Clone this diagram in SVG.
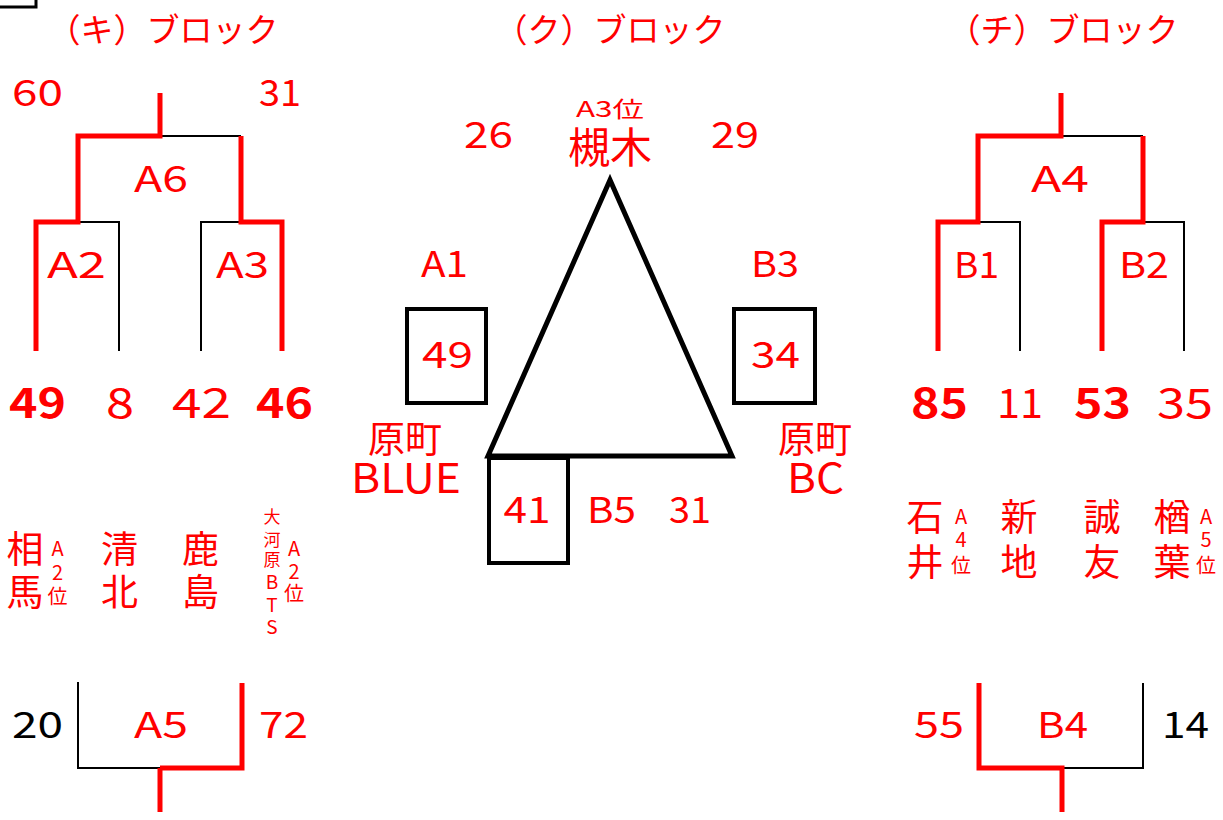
<svg xmlns="http://www.w3.org/2000/svg" width="1223" height="820" viewBox="0 0 1223 820">
<style>
text{font-family:"Noto Sans CJK JP","Noto Sans",sans-serif;fill:#ff0000}
.k{fill:#000}
.b{font-weight:bold}
.m{text-anchor:middle}
.c{text-anchor:middle;dominant-baseline:central}
.t{font-size:33px}
.n{font-size:36px}
.nb{font-size:41px}
.j{font-size:37px}
.s{font-size:20px}
.xs{font-size:17px}
.xl{font-size:19px}
.lr{stroke:#ff0000;stroke-width:5;fill:none}
.lk{stroke:#000;stroke-width:2;fill:none}
.box{stroke:#000;stroke-width:4;fill:none}
</style>
<rect width="1223" height="820" fill="#fff"/>
<path d="M0,7 H36 V0" stroke="#000" stroke-width="3" fill="none"/>

<g id="connectors">
  <path class="lk" d="M160,136 H241"/>
  <path class="lk" d="M78,222 H119 V351"/>
  <path class="lk" d="M201,351 V222 H241"/>
  <path class="lr" d="M160,93 V136 H78 V222 H36 V351"/>
  <path class="lr" d="M241,136 V222 H282 V351"/>
  <path class="lk" d="M78,682 V768 H160"/>
  <path class="lr" d="M242,683 V768 H160"/>
  <path class="lr" d="M160,768 V812"/>
  <path class="lk" d="M1061,136 H1143"/>
  <path class="lk" d="M978,222 H1020 V351"/>
  <path class="lk" d="M1143,222 H1184 V351"/>
  <path class="lr" d="M1061,93 V136 H978 V222 H938 V351"/>
  <path class="lr" d="M1143,136 V222 H1102 V351"/>
  <path class="lk" d="M1062,768 H1143 V683"/>
  <path class="lr" d="M979,683 V768 H1062 V812"/>
  <polygon points="610,180 488,456 732,456" stroke="#000" stroke-width="5" fill="none"/>
</g>

<g id="block-ki">
  <text class="t c" x="163" y="28">（キ）ブロック</text>
  <text class="n m" x="37.5" y="106" textLength="51" lengthAdjust="spacingAndGlyphs">60</text>
  <text class="n m" x="280" y="106" textLength="42" lengthAdjust="spacingAndGlyphs">31</text>
</g>
<g id="A6"><text class="n m" x="161" y="192" textLength="54" lengthAdjust="spacingAndGlyphs">A6</text></g>
<g id="A2"><text class="n m" x="76.5" y="278" textLength="59" lengthAdjust="spacingAndGlyphs">A2</text></g>
<g id="A3"><text class="n m" x="242.5" y="278" textLength="53" lengthAdjust="spacingAndGlyphs">A3</text></g>
<g id="ki-scores">
  <text class="nb m b" x="37.5" y="418" textLength="57" lengthAdjust="spacingAndGlyphs">49</text>
  <text class="nb m" x="120" y="418" textLength="28" lengthAdjust="spacingAndGlyphs">8</text>
  <text class="nb m" x="201.5" y="418" textLength="59" lengthAdjust="spacingAndGlyphs">42</text>
  <text class="nb m b" x="284.5" y="418" textLength="57" lengthAdjust="spacingAndGlyphs">46</text>
</g>
<g id="team-soma">
  <text class="j c" x="25" y="547">相</text>
  <text class="j c" x="25" y="590">馬</text>
  <text class="s c" x="57.5" y="547">A</text>
  <text class="s c" x="57.5" y="571">2</text>
  <text class="s c" x="57.5" y="595">位</text>
</g>
<g id="team-seihoku">
  <text class="j c" x="119.5" y="547">清</text>
  <text class="j c" x="119.5" y="590">北</text>
</g>
<g id="team-kashima">
  <text class="j c" x="200.5" y="547">鹿</text>
  <text class="j c" x="200.5" y="590">島</text>
</g>
<g id="team-okawara">
  <text class="xs c" x="272" y="515">大</text>
  <text class="xs c" x="272" y="538">河</text>
  <text class="xs c" x="272" y="558">原</text>
  <text class="xl c" x="272" y="580">B</text>
  <text class="xl c" x="272" y="603">T</text>
  <text class="xl c" x="272" y="625">S</text>
  <text class="s c" x="294" y="547">A</text>
  <text class="s c" x="294" y="570">2</text>
  <text class="s c" x="294" y="592">位</text>
</g>
<g id="A5">
  <text class="n m k" x="37.5" y="738" textLength="51" lengthAdjust="spacingAndGlyphs">20</text>
  <text class="n m" x="161" y="738" textLength="54" lengthAdjust="spacingAndGlyphs">A5</text>
  <text class="n m" x="283.5" y="738" textLength="49" lengthAdjust="spacingAndGlyphs">72</text>
</g>

<g id="block-ku">
  <text class="t c" x="610" y="28">（ク）ブロック</text>
</g>
<g id="team-tsukinoki">
  <text class="c" style="font-size:22px" x="610" y="107" textLength="68" lengthAdjust="spacingAndGlyphs">A3位</text>
  <text class="c" style="font-size:42px" x="610" y="144">槻木</text>
  <text class="n m" x="488.5" y="148" textLength="49" lengthAdjust="spacingAndGlyphs">26</text>
  <text class="n m" x="735" y="148" textLength="48" lengthAdjust="spacingAndGlyphs">29</text>
</g>
<g id="A1">
  <text class="n m" x="444.5" y="277" textLength="47" lengthAdjust="spacingAndGlyphs">A1</text>
  <rect class="box" x="407" y="309" width="79" height="94"/>
  <text class="n m" x="447.5" y="368" textLength="51" lengthAdjust="spacingAndGlyphs">49</text>
</g>
<g id="B3">
  <text class="n m" x="775" y="277" textLength="48" lengthAdjust="spacingAndGlyphs">B3</text>
  <rect class="box" x="734" y="309" width="81" height="94"/>
  <text class="n m" x="775.5" y="368" textLength="49" lengthAdjust="spacingAndGlyphs">34</text>
</g>
<g id="team-haramachi-blue">
  <text class="j c" x="405" y="437">原町</text>
  <text class="nb m" x="406" y="493" textLength="110" lengthAdjust="spacingAndGlyphs">BLUE</text>
</g>
<g id="team-haramachi-bc">
  <text class="j c" x="815" y="437">原町</text>
  <text class="nb m" x="815.5" y="493" textLength="57" lengthAdjust="spacingAndGlyphs">BC</text>
</g>
<g id="B5">
  <rect class="box" x="489" y="458" width="79" height="105"/>
  <text class="n m" x="527" y="523" textLength="47" lengthAdjust="spacingAndGlyphs">41</text>
  <text class="n m" x="611.5" y="523" textLength="49" lengthAdjust="spacingAndGlyphs">B5</text>
  <text class="n m" x="690" y="523" textLength="42" lengthAdjust="spacingAndGlyphs">31</text>
</g>

<g id="block-chi">
  <text class="t c" x="1063" y="28">（チ）ブロック</text>
</g>
<g id="A4"><text class="n m" x="1060" y="192" textLength="58" lengthAdjust="spacingAndGlyphs">A4</text></g>
<g id="B1"><text class="n m" x="976.5" y="278" textLength="45" lengthAdjust="spacingAndGlyphs">B1</text></g>
<g id="B2"><text class="n m" x="1144" y="278" textLength="50" lengthAdjust="spacingAndGlyphs">B2</text></g>
<g id="chi-scores">
  <text class="nb m b" x="939.5" y="418" textLength="57" lengthAdjust="spacingAndGlyphs">85</text>
  <text class="nb m" x="1020" y="418" textLength="46" lengthAdjust="spacingAndGlyphs">11</text>
  <text class="nb m b" x="1102.5" y="418" textLength="57" lengthAdjust="spacingAndGlyphs">53</text>
  <text class="nb m" x="1185" y="418" textLength="56" lengthAdjust="spacingAndGlyphs">35</text>
</g>
<g id="team-ishii">
  <text class="j c" x="925" y="515">石</text>
  <text class="j c" x="925" y="560">井</text>
  <text class="s c" x="961" y="515">A</text>
  <text class="s c" x="961" y="538">4</text>
  <text class="s c" x="961" y="564">位</text>
</g>
<g id="team-shinchi">
  <text class="j c" x="1019" y="515">新</text>
  <text class="j c" x="1019" y="560">地</text>
</g>
<g id="team-seiyu">
  <text class="j c" x="1102" y="515">誠</text>
  <text class="j c" x="1102" y="560">友</text>
</g>
<g id="team-naraha">
  <text class="j c" x="1172" y="515">楢</text>
  <text class="j c" x="1172" y="560">葉</text>
  <text class="s c" x="1206" y="515">A</text>
  <text class="s c" x="1206" y="538">5</text>
  <text class="s c" x="1206" y="564">位</text>
</g>
<g id="B4">
  <text class="n m" x="939" y="738" textLength="50" lengthAdjust="spacingAndGlyphs">55</text>
  <text class="n m" x="1062.5" y="738" textLength="51" lengthAdjust="spacingAndGlyphs">B4</text>
  <text class="n m k" x="1185.5" y="738" textLength="47" lengthAdjust="spacingAndGlyphs">14</text>
</g>
</svg>
